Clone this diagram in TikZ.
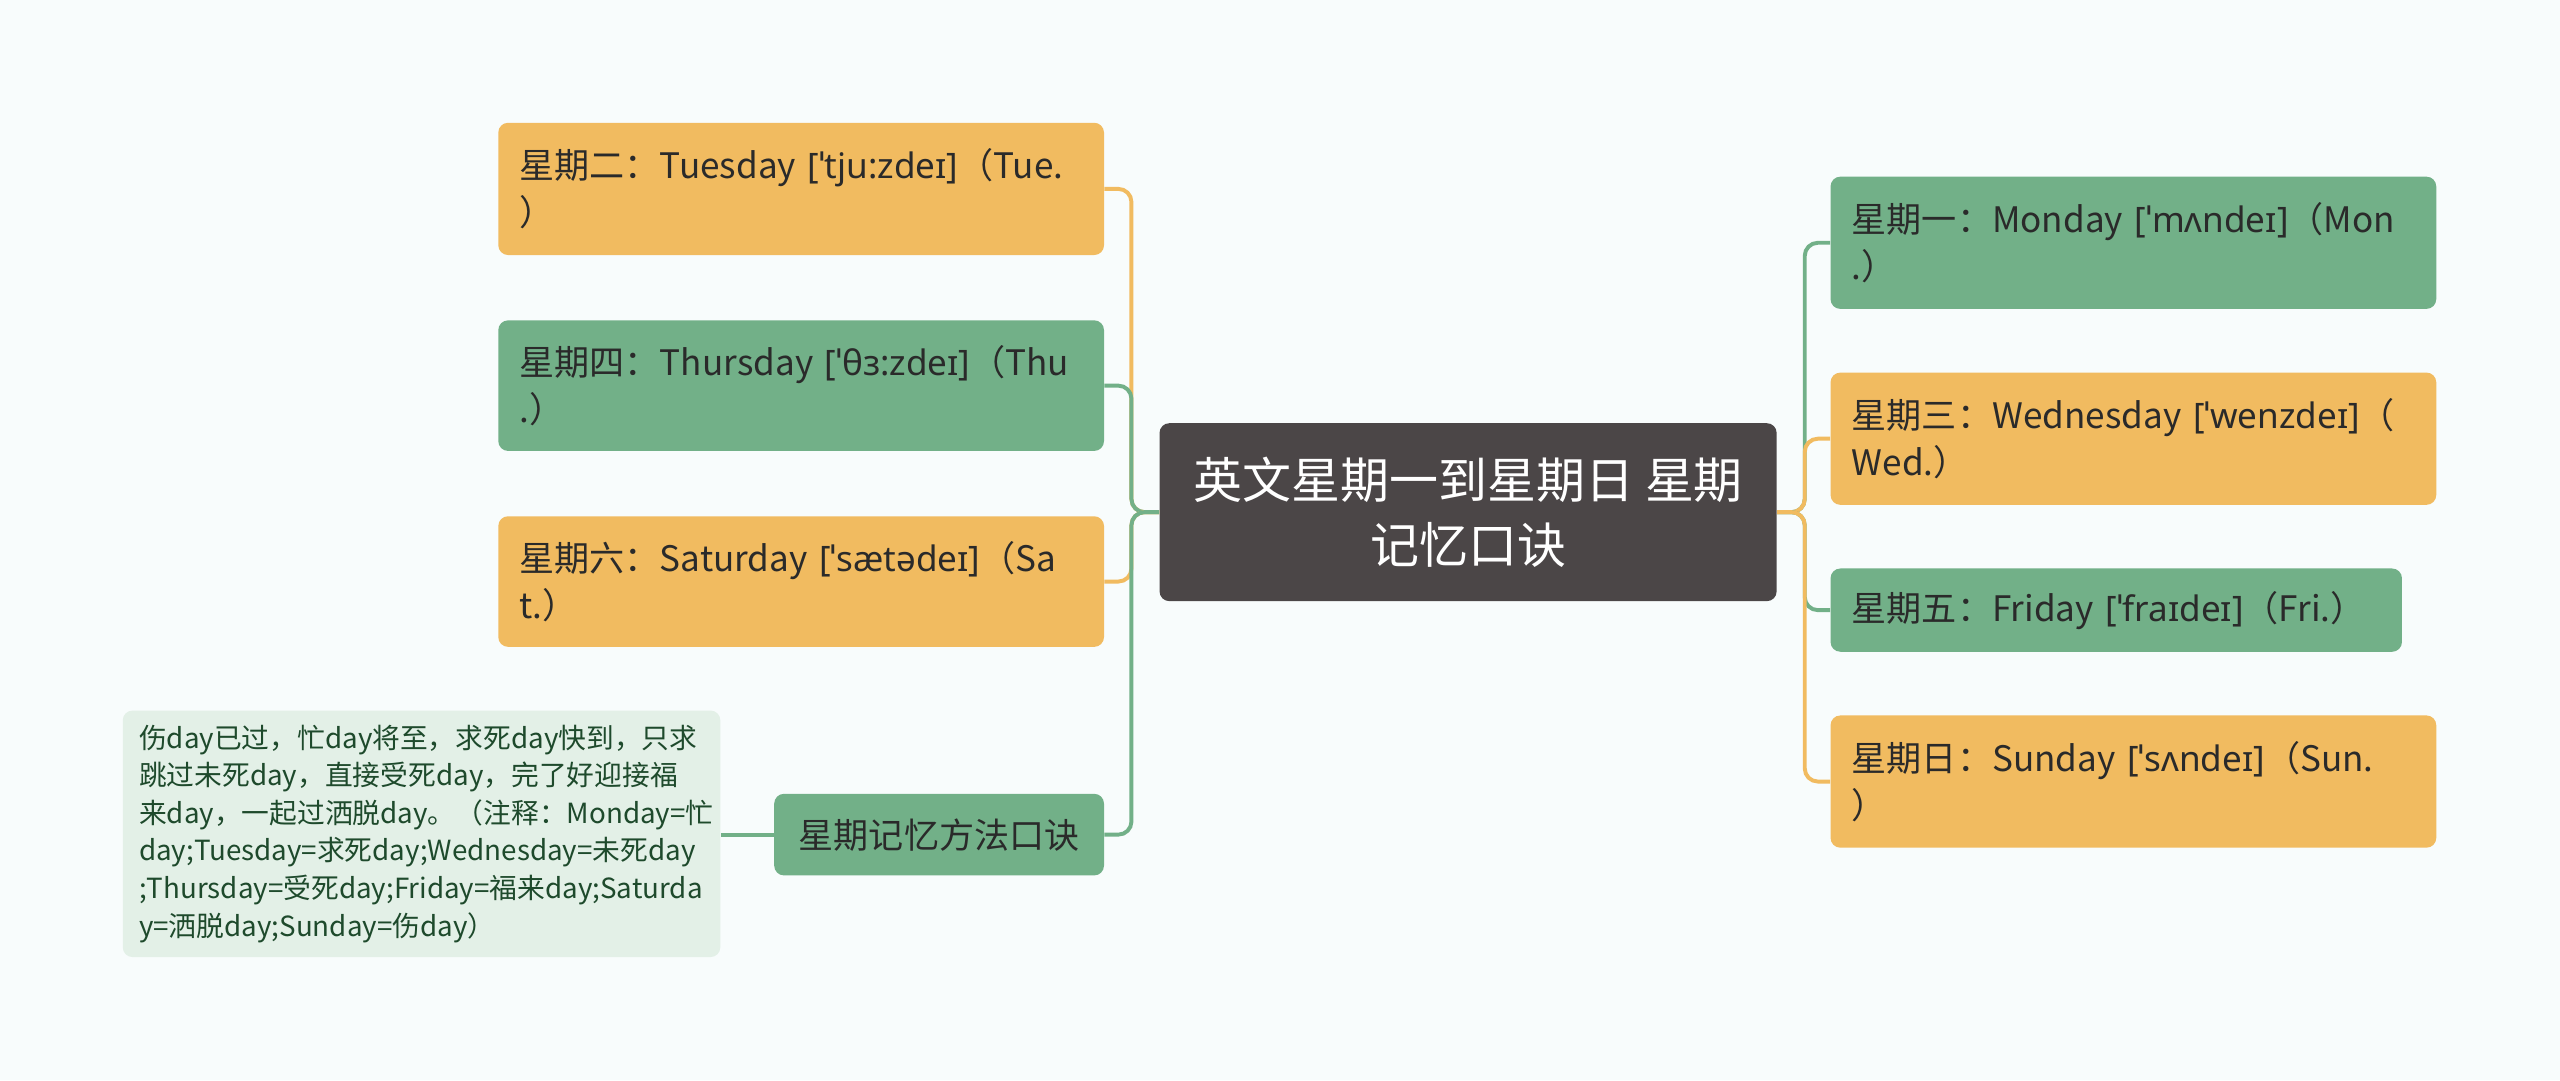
\documentclass[tikz,border=0pt]{standalone}
\usepackage{fontspec}
\setmainfont{Noto Sans CJK SC}
\newfontfamily\ipa{Noto Sans}
\definecolor{bgc}{HTML}{F8FCFC}
\definecolor{org}{HTML}{F1BB60}
\definecolor{grn}{HTML}{72B088}
\definecolor{dark}{HTML}{4B4647}
\definecolor{note}{HTML}{E3F0E7}
\definecolor{txt}{HTML}{2A2A2A}
\definecolor{notetxt}{HTML}{1E4A2C}
\tikzset{
  box/.style={rounded corners=6pt, inner xsep=13pt, inner ysep=0pt, anchor=north west,
    align=left, font=\fontsize{21.5}{29}\selectfont, text=txt, text width=#1},
  box/.default=345pt,
  ob/.style={box, fill=org},
  gb/.style={box, fill=grn},
  oline/.style={draw=org, line width=2.4pt, rounded corners=8pt},
  gline/.style={draw=grn, line width=2.4pt, rounded corners=8pt},
}
\begin{document}
\begin{tikzpicture}[x=1pt,y=-1pt]
\fill[bgc] (0,0) rectangle (1568,661.5);
\useasboundingbox (0,0) rectangle (1568,661.5);

% center
\node[fill=dark, rounded corners=6pt, anchor=north west, minimum width=378pt, minimum height=109pt,
  inner sep=0pt, align=center, text=white, font=\fontsize{30}{40}\selectfont] (c) at (710,259)
  {英文星期一到星期日 星期\\记忆口诀};

% left children
\node[ob, minimum height=81pt] (tue) at (305,75) {星期二：Tuesday~{\ipa[ˈtju:zdeɪ]}（Tue.\\）};
\node[gb, minimum height=80pt] (thu) at (305,196) {星期四：Thursday~{\ipa[ˈθɜ:zdeɪ]}（Thu\\.）};
\node[ob, minimum height=80pt] (sat) at (305,316) {星期六：Saturday~{\ipa[ˈsætədeɪ]}（Sa\\t.）};
\node[gb, text width=176pt, minimum height=50pt, align=center] (mem) at (474,486) {星期记忆方法口诀};
\node[fill=note, rounded corners=6pt, anchor=north west, inner xsep=10pt, inner ysep=0pt,
  text width=346pt, minimum height=151pt, align=left, text=notetxt,
  font=\fontsize{17}{23}\selectfont] (cm) at (75,435)
  {伤day已过，忙day将至，求死day快到，只求\\跳过未死day，直接受死day，完了好迎接福\\来day，一起过洒脱day。（注释：Monday=忙\\day;Tuesday=求死day;Wednesday=未死day\\;Thursday=受死day;Friday=福来day;Saturda\\y=洒脱day;Sunday=伤day）};

% right children
\node[gb, minimum height=81pt] (mon) at (1121,108) {星期一：Monday~{\ipa[ˈmʌndeɪ]}（Mon\\.）};
\node[ob, minimum height=81pt] (wed) at (1121,228) {星期三：Wednesday~{\ipa[ˈwenzdeɪ]}（\\Wed.）};
\node[gb, text width=324pt, minimum height=51pt] (fri) at (1121,348) {星期五：Friday~{\ipa[ˈfraɪdeɪ]}（Fri.）};
\node[ob, minimum height=81pt] (sun) at (1121,438) {星期日：Sunday~{\ipa[ˈsʌndeɪ]}（Sun.\\）};

% connectors left
\coordinate (lj) at ([xshift=-17pt]c.west);
\coordinate (rj) at ([xshift=17pt]c.east);
\path[oline] (c.west) -- (lj) |- (tue.east);
\path[gline] (c.west) -- (lj) |- (thu.east);
\path[oline] (c.west) -- (lj) |- (sat.east);
\path[gline] (c.west) -- (lj) |- (mem.east);
\path[gline] (mem.west) -- (cm.east |- mem.west);
% connectors right
\path[gline] (c.east) -- (rj) |- (mon.west);
\path[oline] (c.east) -- (rj) |- (wed.west);
\path[gline] (c.east) -- (rj) |- (fri.west);
\path[oline] (c.east) -- (rj) |- (sun.west);
\end{tikzpicture}
\end{document}
